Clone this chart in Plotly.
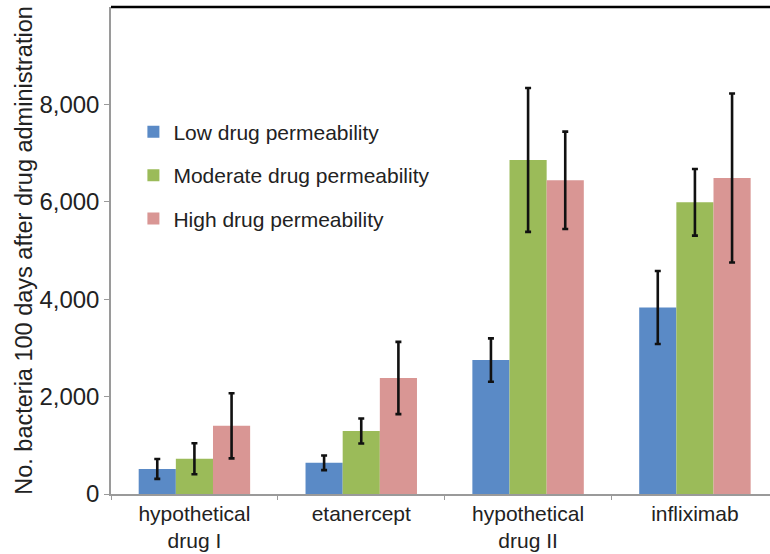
import plotly.graph_objects as go

categories = ["hypothetical<br>drug I", "etanercept", "hypothetical<br>drug II", "infliximab"]
series_names = ["Low drug permeability", "Moderate drug permeability", "High drug permeability"]
low_vals = [515, 640, 2750, 3830]
low_err = [205, 150, 445, 750]
mod_vals = [725, 1293, 6860, 5990]
mod_err = [318, 257, 1478, 685]
high_vals = [1400, 2382, 6440, 6490]
high_err = [668, 742, 1000, 1735]
colors = ["#5A8AC6", "#9BBB59", "#D99694"]
y_ticks = [0, 2000, 4000, 6000, 8000]

fig = go.Figure()
for i, (name, vals, errs) in enumerate(zip(series_names, [low_vals, mod_vals, high_vals], [low_err, mod_err, high_err])):
    fig.add_trace(go.Bar(
        x=categories, y=vals, name=name,
        marker=dict(color=colors[i], line=dict(width=0)),
        error_y=dict(type="data", array=errs, visible=True, color="#111111", thickness=2.6, width=3),
        legendgroup=f"g{i}",
    ))

fig.update_layout(
    width=770, height=554,
    margin=dict(l=111, r=0, t=7, b=60),
    paper_bgcolor="white", plot_bgcolor="white",
    font=dict(family="Liberation Sans, Arial, sans-serif", size=21, color="#222222"),
    barmode="group", bargap=0.332, bargroupgap=0,
    showlegend=True,
    legend=dict(x=0.034, y=0.785, xanchor="left", yanchor="top", bgcolor="rgba(0,0,0,0)",
                font=dict(size=21, color="#222222"), tracegroupgap=13, itemwidth=30),
    xaxis=dict(range=[-0.5, 3.45], showline=True, linecolor="#9A9A9A", linewidth=1.5,
               ticks="outside", tickson="boundaries", ticklen=4, tickcolor="#9A9A9A",
               showgrid=False, tickfont=dict(size=21), automargin=False),
    yaxis=dict(range=[0, 10000], tickvals=y_ticks, tickformat=",", showline=True,
               linecolor="#9A9A9A", linewidth=1.5, ticks="outside", ticklen=5, tickcolor="#9A9A9A",
               showgrid=False, zeroline=False, tickfont=dict(size=24), automargin=True,
               title=dict(text="No. bacteria 100 days after drug administration", font=dict(size=23.5), standoff=0)),
)
fig.add_shape(type="line", xref="paper", yref="paper", x0=0, x1=1, y0=1, y1=1,
              line=dict(color="black", width=2.5))

fig.write_html("out.html", config={"displayModeBar": False},
               post_script="document.body.style.margin='0px';document.body.style.padding='0px';")
